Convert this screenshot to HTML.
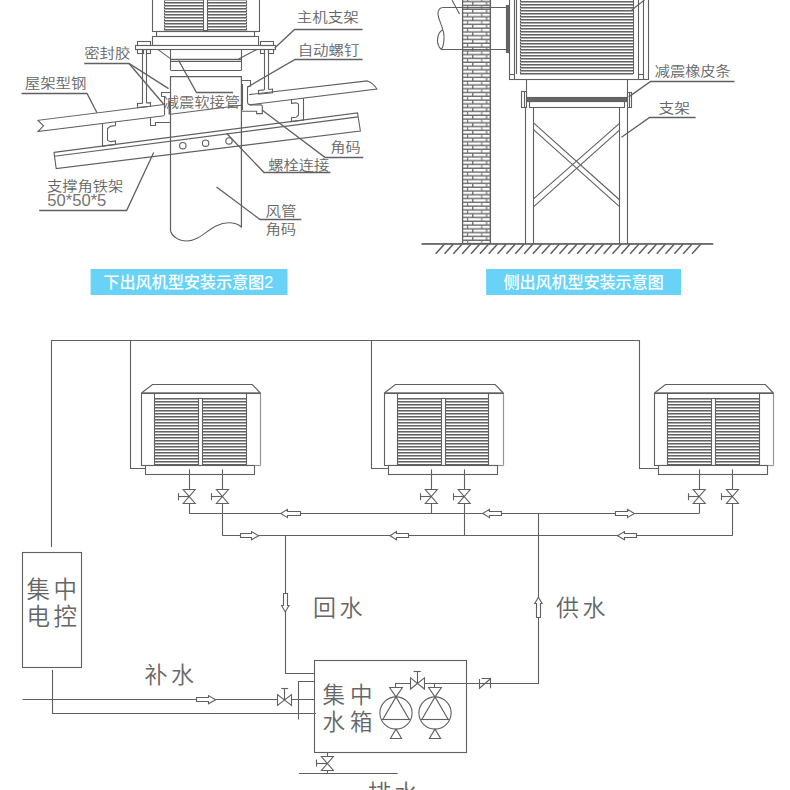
<!DOCTYPE html>
<html lang="zh-CN">
<head>
<meta charset="utf-8">
<title>安装示意图</title>
<style>
html,body{margin:0;padding:0;background:#fff;}
body{width:790px;height:790px;overflow:hidden;}
svg{display:block;}
svg text{font-family:"Liberation Sans","Noto Sans CJK SC",sans-serif;font-weight:350;fill:#666;stroke:none;}
</style>
</head>
<body>
<svg width="790" height="790" viewBox="0 0 790 790" fill="none" stroke="#606060" stroke-width="1.1" stroke-linecap="butt" stroke-linejoin="miter">
<rect x="0" y="0" width="790" height="790" fill="#fff" stroke="none"/>
<defs>
<pattern id="brick" x="462.3" y="-1.42" width="28.2" height="7.574" patternUnits="userSpaceOnUse">
<rect x="0" y="0" width="28.2" height="7.574" fill="#6c6c6c" stroke="none"/>
<rect x="0.8" y="0" width="4.0" height="2.35" fill="#fff" stroke="none"/>
<rect x="5.9" y="0" width="13.0" height="2.35" fill="#fff" stroke="none"/>
<rect x="19.9" y="0" width="7.6" height="2.35" fill="#fff" stroke="none"/>
<rect x="0.8" y="3.787" width="9.0" height="2.35" fill="#fff" stroke="none"/>
<rect x="11.1" y="3.787" width="12.6" height="2.35" fill="#fff" stroke="none"/>
<rect x="24.9" y="3.787" width="2.6" height="2.35" fill="#fff" stroke="none"/>
</pattern>
</defs>
<g id="tl">
<rect x="152.50" y="-4.50" width="107.00" height="36.00" fill="#fff"/>
<rect x="164.50" y="-4.50" width="82.00" height="35.00" fill="#fff"/>
<path d="M164 30.5H247M164 27.5H247M164 24.5H247M164 21.5H247M164 18.5H247M164 15.5H247M164 12.5H247M164 9.5H247M164 6.5H247M164 3.5H247M164 0.5H247" stroke="#aaaaaa"/>
<path d="M164 29.5H247M164 26.5H247M164 23.5H247M164 20.5H247M164 17.5H247M164 14.5H247M164 11.5H247M164 8.5H247M164 5.5H247M164 2.5H247M164 -0.5H247" stroke="#646464"/>
<rect x="203.50" y="-4.50" width="4.00" height="35.00" fill="#fff"/>
<rect x="156.50" y="31.50" width="98.00" height="5.00"/>
<rect x="152.50" y="36.50" width="106.00" height="9.00"/>
<rect x="135.50" y="45.50" width="140.00" height="4.00" fill="#fff"/>
<rect x="137.50" y="41.50" width="13.00" height="4.00"/>
<rect x="260.50" y="41.50" width="13.00" height="4.00"/>
<rect x="137.50" y="49.50" width="6.00" height="4.00"/>
<rect x="146.50" y="49.50" width="4.00" height="4.00"/>
<rect x="260.50" y="49.50" width="4.00" height="4.00"/>
<rect x="268.50" y="49.50" width="5.00" height="4.00"/>
<line x1="142.50" y1="49.40" x2="142.50" y2="103.20"/>
<line x1="146.50" y1="49.40" x2="146.50" y2="103.20"/>
<path d="M142.90 103.20 L137.50 103.60 L137.50 107.60 L150.50 106.20 L150.50 102.60 L146.60 103.00"/>
<line x1="264.50" y1="49.40" x2="264.50" y2="89.90"/>
<line x1="268.50" y1="49.40" x2="268.50" y2="89.50"/>
<path d="M264.40 89.90 L258.50 90.50 L258.50 94.20 L272.50 92.70 L272.50 89.00 L268.50 89.50"/>
<line x1="157.80" y1="49.40" x2="170.80" y2="58.90"/>
<line x1="257.00" y1="49.40" x2="238.60" y2="59.00"/>
<line x1="170.50" y1="49.40" x2="170.50" y2="70.30"/>
<line x1="241.50" y1="49.40" x2="241.50" y2="70.30"/>
<line x1="170.80" y1="59.50" x2="241.40" y2="59.50" stroke-width="1.6"/>
<line x1="170.80" y1="61.50" x2="241.40" y2="61.50"/>
<line x1="170.80" y1="70.50" x2="241.40" y2="70.50"/>
<path d="M170.5 231 L170.5 76.6 L241.4 76.6 L241.4 227 C236 222 226 221 216 226 C206 231 198 241 187 241 C178 241 172 236 170.5 231" fill="none"/>
<path d="M164.20 104.53 L38.00 120.30 L43.50 125.80 L38.00 131.60 L164.20 115.82"/>
<path d="M249.2 94.60 L367.3 80.90 Q373.5 83 376.8 88.95 L249.5 104.86"/>
<path d="M102.50 123.54 L102.50 146.09 L115.50 144.44 L115.50 140.84 L110.50 141.66 L107.50 140.47 L107.50 128.44 L110.50 126.34 L115.50 125.55 L115.50 121.95"/>
<path d="M303.50 98.09 L303.50 119.94 L291.50 121.51 L291.50 117.71 L296.00 117.34 L298.50 115.18 L298.50 104.10 L296.00 102.85 L291.50 103.40 L291.50 99.60"/>
<path d="M54.00 152.40 L357.50 112.95 L360.40 131.00 L56.20 168.60 Z"/>
<line x1="54.60" y1="156.32" x2="358.00" y2="116.88"/>
<circle cx="182.80" cy="145.70" r="3.20" fill="#fff"/>
<circle cx="205.60" cy="143.20" r="3.20" fill="#fff"/>
<circle cx="229.00" cy="140.90" r="3.20" fill="#fff"/>
<line x1="170.50" y1="76.60" x2="170.50" y2="231.00"/>
<line x1="241.50" y1="76.60" x2="241.50" y2="227.00"/>
<line x1="170.50" y1="114.30" x2="241.40" y2="105.20"/>
<path d="M161.50 96.50 L161.50 92.50 L170.50 92.50"/>
<path d="M161.40 96.50 L164.50 96.50 L164.50 115.30"/>
<path d="M150.50 117.50 L150.50 125.50 L155.50 125.50 L155.50 122.50 L170.50 122.50"/>
<line x1="169.50" y1="101.00" x2="169.50" y2="114.50" stroke-width="1.8"/>
<path d="M241.8 80.5 L250.5 80.5 L250.5 86.2 L247.5 87 L247.5 102 Q247.6 104.6 250.2 104.9 L261 104.9 L262.3 106.2 L262.3 113.6 L256.6 113.6 L256.6 111.2 L241.4 111.2"/>
<line x1="242.50" y1="84.00" x2="242.50" y2="110.00"/>
<path d="M21.50 93.50 L87.00 93.50 L97.00 112.70" stroke-width="1.3"/>
<path d="M84.20 63.50 L129.00 63.50 L168.60 88.60" stroke-width="1.3"/>
<line x1="129.00" y1="63.50" x2="163.50" y2="104.00" stroke-width="1.3"/>
<path d="M39.20 210.50 L126.60 210.50 L153.70 152.40" stroke-width="1.3"/>
<path d="M178.70 60.50 L196.50 92.50 L233.00 92.50" stroke-width="1.3"/>
<path d="M362.60 29.50 L294.60 29.50 L274.70 48.00" stroke-width="1.3"/>
<path d="M362.60 59.50 L295.00 59.50 L247.70 87.00" stroke-width="1.3"/>
<path d="M363.20 157.50 L325.20 157.50 L262.00 110.00" stroke-width="1.3"/>
<path d="M330.40 172.50 L264.00 172.50 L226.50 133.30" stroke-width="1.3"/>
<path d="M301.30 219.50 L260.00 219.50 L216.50 187.00" stroke-width="1.3"/>
<text class="lb" transform="translate(296.71 22.22) scale(1.1505 1)" style="font-size:13.5px;">主机支架</text>
<text class="lb" transform="translate(297.64 54.52) scale(1.1479 1)" style="font-size:13.5px;">自动螺钉</text>
<text class="lb" transform="translate(84.23 58.35) scale(1.1395 1)" style="font-size:13.5px;">密封胶</text>
<text class="lb" transform="translate(24.72 88.22) scale(1.1440 1)" style="font-size:13.5px;">屋架型钢</text>
<text class="lb" transform="translate(163.73 107.35) scale(1.1311 1)" style="font-size:13.5px;">减震软接管</text>
<text class="lb" transform="translate(330.23 152.17) scale(1.1238 1)" style="font-size:13.5px;">角码</text>
<text class="lb" transform="translate(268.23 169.60) scale(1.1341 1)" style="font-size:13.5px;">螺栓连接</text>
<text class="lb" transform="translate(46.98 190.95) scale(1.1310 1)" style="font-size:13.5px;">支撑角铁架</text>
<text class="lb" transform="translate(47.28 205.85) scale(1.0640 1)" style="font-size:15.6px;fill:#747474;">50*50*5</text>
<text class="lb" transform="translate(265.46 215.72) scale(1.1472 1)" style="font-size:13.5px;">风管</text>
<text class="lb" transform="translate(265.46 233.98) scale(1.1417 1)" style="font-size:13.5px;">角码</text>
</g>
<g id="tr">
<path d="M442.2 7.5 L506 7.5 M441.4 49.5 L506 49.5" fill="none"/>
<path d="M442.2 7.5 C438.3 8.3 437 12.5 438.6 17.5 C440 22 442 26 442.7 29.7 C444.7 34 444.5 45 441.4 49.5 C435.8 45 436.2 33.5 442.7 29.7" fill="none"/>
<rect x="462.50" y="-4.50" width="28.00" height="248.00" fill="url(#brick)"/>
<line x1="462.30" y1="7.50" x2="490.50" y2="7.50"/>
<line x1="462.30" y1="49.50" x2="490.50" y2="49.50"/>
<line x1="452.00" y1="0.00" x2="459.50" y2="14.00"/>
<rect x="506.50" y="5.50" width="3.00" height="47.00" fill="#666"/>
<rect x="509.50" y="-4.50" width="139.00" height="84.00" fill="#fff"/>
<line x1="514.50" y1="-5.00" x2="514.50" y2="79.70"/>
<line x1="516.50" y1="-5.00" x2="516.50" y2="74.00"/>
<line x1="509.50" y1="74.50" x2="514.60" y2="74.50"/>
<rect x="520.50" y="-4.50" width="113.00" height="78.00" fill="#fff"/>
<path d="M520 74.5H633M520 71.5H633M520 68.5H633M520 65.5H633M520 62.5H633M520 59.5H633M520 56.5H633M520 53.5H633M520 50.5H633M520 47.5H633M520 44.5H633M520 41.5H633M520 38.5H633M520 35.5H633M520 32.5H633M520 29.5H633M520 26.5H633M520 23.5H633M520 20.5H633M520 17.5H633M520 14.5H633M520 11.5H633M520 8.5H633M520 5.5H633M520 2.5H633M520 -0.5H633" stroke="#aaaaaa"/>
<path d="M520 73.5H633M520 70.5H633M520 67.5H633M520 64.5H633M520 61.5H633M520 58.5H633M520 55.5H633M520 52.5H633M520 49.5H633M520 46.5H633M520 43.5H633M520 40.5H633M520 37.5H633M520 34.5H633M520 31.5H633M520 28.5H633M520 25.5H633M520 22.5H633M520 19.5H633M520 16.5H633M520 13.5H633M520 10.5H633M520 7.5H633M520 4.5H633M520 1.5H633M520 -1.5H633" stroke="#646464"/>
<line x1="638.50" y1="-5.00" x2="638.50" y2="79.70"/>
<line x1="643.50" y1="-5.00" x2="643.50" y2="79.70"/>
<line x1="638.50" y1="74.50" x2="643.00" y2="74.50"/>
<line x1="644.40" y1="0.00" x2="631.80" y2="10.00"/>
<line x1="526.50" y1="79.70" x2="526.50" y2="97.30"/>
<line x1="627.50" y1="79.70" x2="627.50" y2="97.30"/>
<rect x="527.50" y="97.50" width="99.00" height="4.00" fill="#666"/>
<rect x="529.50" y="101.50" width="95.00" height="6.00"/>
<rect x="521.50" y="91.50" width="5.00" height="16.00" fill="#fff"/>
<line x1="524.50" y1="91.00" x2="524.50" y2="107.60"/>
<rect x="627.50" y="92.50" width="4.00" height="15.00" fill="#fff"/>
<line x1="629.50" y1="92.00" x2="629.50" y2="107.60"/>
<line x1="525.50" y1="107.60" x2="525.50" y2="243.70"/>
<line x1="533.50" y1="107.60" x2="533.50" y2="243.70"/>
<line x1="619.50" y1="107.60" x2="619.50" y2="243.70"/>
<line x1="627.50" y1="107.60" x2="627.50" y2="243.70"/>
<line x1="533.50" y1="122.90" x2="619.20" y2="199.50"/>
<line x1="533.50" y1="129.70" x2="619.20" y2="206.30"/>
<line x1="619.20" y1="123.60" x2="533.50" y2="198.80"/>
<line x1="619.20" y1="130.40" x2="533.50" y2="206.80"/>
<rect x="421.5" y="243.1" width="291.8" height="1.7" fill="#5e5e5e" stroke="none"/>
<line x1="444.30" y1="244.20" x2="435.70" y2="253.80" stroke-width="1.5" stroke="#5e5e5e"/>
<line x1="453.14" y1="244.20" x2="444.54" y2="253.80" stroke-width="1.5" stroke="#5e5e5e"/>
<line x1="461.98" y1="244.20" x2="453.38" y2="253.80" stroke-width="1.5" stroke="#5e5e5e"/>
<line x1="470.82" y1="244.20" x2="462.22" y2="253.80" stroke-width="1.5" stroke="#5e5e5e"/>
<line x1="479.66" y1="244.20" x2="471.06" y2="253.80" stroke-width="1.5" stroke="#5e5e5e"/>
<line x1="488.50" y1="244.20" x2="479.90" y2="253.80" stroke-width="1.5" stroke="#5e5e5e"/>
<line x1="497.34" y1="244.20" x2="488.74" y2="253.80" stroke-width="1.5" stroke="#5e5e5e"/>
<line x1="506.18" y1="244.20" x2="497.58" y2="253.80" stroke-width="1.5" stroke="#5e5e5e"/>
<line x1="515.02" y1="244.20" x2="506.42" y2="253.80" stroke-width="1.5" stroke="#5e5e5e"/>
<line x1="523.86" y1="244.20" x2="515.26" y2="253.80" stroke-width="1.5" stroke="#5e5e5e"/>
<line x1="532.70" y1="244.20" x2="524.10" y2="253.80" stroke-width="1.5" stroke="#5e5e5e"/>
<line x1="541.54" y1="244.20" x2="532.94" y2="253.80" stroke-width="1.5" stroke="#5e5e5e"/>
<line x1="550.38" y1="244.20" x2="541.78" y2="253.80" stroke-width="1.5" stroke="#5e5e5e"/>
<line x1="559.22" y1="244.20" x2="550.62" y2="253.80" stroke-width="1.5" stroke="#5e5e5e"/>
<line x1="568.06" y1="244.20" x2="559.46" y2="253.80" stroke-width="1.5" stroke="#5e5e5e"/>
<line x1="576.90" y1="244.20" x2="568.30" y2="253.80" stroke-width="1.5" stroke="#5e5e5e"/>
<line x1="585.74" y1="244.20" x2="577.14" y2="253.80" stroke-width="1.5" stroke="#5e5e5e"/>
<line x1="594.58" y1="244.20" x2="585.98" y2="253.80" stroke-width="1.5" stroke="#5e5e5e"/>
<line x1="603.42" y1="244.20" x2="594.82" y2="253.80" stroke-width="1.5" stroke="#5e5e5e"/>
<line x1="612.26" y1="244.20" x2="603.66" y2="253.80" stroke-width="1.5" stroke="#5e5e5e"/>
<line x1="621.10" y1="244.20" x2="612.50" y2="253.80" stroke-width="1.5" stroke="#5e5e5e"/>
<line x1="629.94" y1="244.20" x2="621.34" y2="253.80" stroke-width="1.5" stroke="#5e5e5e"/>
<line x1="638.78" y1="244.20" x2="630.18" y2="253.80" stroke-width="1.5" stroke="#5e5e5e"/>
<line x1="647.62" y1="244.20" x2="639.02" y2="253.80" stroke-width="1.5" stroke="#5e5e5e"/>
<line x1="656.46" y1="244.20" x2="647.86" y2="253.80" stroke-width="1.5" stroke="#5e5e5e"/>
<line x1="665.30" y1="244.20" x2="656.70" y2="253.80" stroke-width="1.5" stroke="#5e5e5e"/>
<line x1="674.14" y1="244.20" x2="665.54" y2="253.80" stroke-width="1.5" stroke="#5e5e5e"/>
<line x1="682.98" y1="244.20" x2="674.38" y2="253.80" stroke-width="1.5" stroke="#5e5e5e"/>
<line x1="691.82" y1="244.20" x2="683.22" y2="253.80" stroke-width="1.5" stroke="#5e5e5e"/>
<line x1="700.66" y1="244.20" x2="692.06" y2="253.80" stroke-width="1.5" stroke="#5e5e5e"/>
<path d="M734.50 81.50 L650.60 81.50 L628.80 96.90" stroke-width="1.3"/>
<path d="M695.60 117.50 L649.60 117.50 L621.50 137.20" stroke-width="1.3"/>
<text class="lb" transform="translate(654.73 76.47) scale(1.1280 1)" style="font-size:13.5px;">减震橡皮条</text>
<text class="lb" transform="translate(658.45 112.65) scale(1.1668 1)" style="font-size:13.5px;">支架</text>
</g>
<rect x="90.6" y="269" width="196.9" height="26" fill="#68d3f6" stroke="none"/>
<rect x="486.1" y="269" width="194.9" height="26" fill="#68d3f6" stroke="none"/>
<text x="103.30" y="288.00" style="font-size:16.2px;letter-spacing:-0.1px;font-weight:500;fill:#fff;">下出风机型安装示意图2</text>
<text x="503.60" y="288.00" style="font-size:16.2px;letter-spacing:-0.2px;font-weight:500;fill:#fff;">侧出风机型安装示意图</text>
<g id="pipe">
<path d="M141.50 393.00 L152.50 384.50 L252.30 384.50 L260.30 393.00"/>
<rect x="141.50" y="393.50" width="119.00" height="72.00" fill="#fff"/>
<path d="M154 399.5H246M154 402.5H246M154 405.5H246M154 408.5H246M154 411.5H246M154 414.5H246M154 417.5H246M154 420.5H246M154 423.5H246M154 426.5H246M154 429.5H246M154 432.5H246M154 435.5H246M154 438.5H246M154 441.5H246M154 444.5H246M154 447.5H246M154 450.5H246M154 453.5H246M154 456.5H246M154 459.5H246M154 462.5H246M154 465.5H246" stroke="#aaaaaa"/>
<path d="M154 398.5H246M154 401.5H246M154 404.5H246M154 407.5H246M154 410.5H246M154 413.5H246M154 416.5H246M154 419.5H246M154 422.5H246M154 425.5H246M154 428.5H246M154 431.5H246M154 434.5H246M154 437.5H246M154 440.5H246M154 443.5H246M154 446.5H246M154 449.5H246M154 452.5H246M154 455.5H246M154 458.5H246M154 461.5H246M154 464.5H246" stroke="#646464"/>
<rect x="141.50" y="392.3" width="118.8" height="1.5" fill="#626262" stroke="none"/>
<line x1="154.50" y1="393.00" x2="154.50" y2="465.00"/>
<line x1="246.50" y1="393.00" x2="246.50" y2="465.00"/>
<rect x="198.50" y="398.50" width="4.00" height="67.00" fill="#fff"/>
<line x1="260.50" y1="394.20" x2="260.50" y2="465.90" stroke-width="1.6" stroke="#fff"/>
<line x1="260.50" y1="394.20" x2="260.50" y2="465.90" stroke-width="1.1" stroke="#969696"/>
<line x1="255.10" y1="465.50" x2="260.80" y2="465.50" stroke-width="1.6" stroke="#fff"/>
<line x1="255.10" y1="465.50" x2="260.80" y2="465.50" stroke-width="1.1" stroke="#969696"/>
<rect x="145.50" y="465.50" width="109.00" height="9.00" fill="#fff"/>
<line x1="189.50" y1="469.40" x2="189.50" y2="513.50"/>
<path d="M183.20 489.50 L195.20 489.50 L183.20 503.50 L195.20 503.50 Z" fill="#fff"/>
<line x1="178.60" y1="496.50" x2="189.20" y2="496.50"/>
<line x1="178.50" y1="493.20" x2="178.50" y2="500.20"/>
<line x1="222.50" y1="469.40" x2="222.50" y2="535.70"/>
<path d="M216.40 489.50 L228.40 489.50 L216.40 503.50 L228.40 503.50 Z" fill="#fff"/>
<line x1="211.80" y1="496.50" x2="222.40" y2="496.50"/>
<line x1="211.50" y1="493.20" x2="211.50" y2="500.20"/>
<path d="M130.50 340.30 L130.50 468.50 L145.10 468.50"/>
<path d="M384.40 393.00 L395.40 384.50 L495.20 384.50 L503.20 393.00"/>
<rect x="384.50" y="393.50" width="119.00" height="72.00" fill="#fff"/>
<path d="M397 399.5H488M397 402.5H488M397 405.5H488M397 408.5H488M397 411.5H488M397 414.5H488M397 417.5H488M397 420.5H488M397 423.5H488M397 426.5H488M397 429.5H488M397 432.5H488M397 435.5H488M397 438.5H488M397 441.5H488M397 444.5H488M397 447.5H488M397 450.5H488M397 453.5H488M397 456.5H488M397 459.5H488M397 462.5H488M397 465.5H488" stroke="#aaaaaa"/>
<path d="M397 398.5H488M397 401.5H488M397 404.5H488M397 407.5H488M397 410.5H488M397 413.5H488M397 416.5H488M397 419.5H488M397 422.5H488M397 425.5H488M397 428.5H488M397 431.5H488M397 434.5H488M397 437.5H488M397 440.5H488M397 443.5H488M397 446.5H488M397 449.5H488M397 452.5H488M397 455.5H488M397 458.5H488M397 461.5H488M397 464.5H488" stroke="#646464"/>
<rect x="384.40" y="392.3" width="118.8" height="1.5" fill="#626262" stroke="none"/>
<line x1="397.50" y1="393.00" x2="397.50" y2="465.00"/>
<line x1="488.50" y1="393.00" x2="488.50" y2="465.00"/>
<rect x="441.50" y="398.50" width="4.00" height="67.00" fill="#fff"/>
<line x1="503.50" y1="394.20" x2="503.50" y2="465.90" stroke-width="1.6" stroke="#fff"/>
<line x1="503.50" y1="394.20" x2="503.50" y2="465.90" stroke-width="1.1" stroke="#969696"/>
<line x1="498.00" y1="465.50" x2="503.70" y2="465.50" stroke-width="1.6" stroke="#fff"/>
<line x1="498.00" y1="465.50" x2="503.70" y2="465.50" stroke-width="1.1" stroke="#969696"/>
<rect x="388.50" y="465.50" width="109.00" height="9.00" fill="#fff"/>
<line x1="431.50" y1="469.40" x2="431.50" y2="513.50"/>
<path d="M425.30 489.50 L437.30 489.50 L425.30 503.50 L437.30 503.50 Z" fill="#fff"/>
<line x1="420.70" y1="496.50" x2="431.30" y2="496.50"/>
<line x1="420.50" y1="493.20" x2="420.50" y2="500.20"/>
<line x1="464.50" y1="469.40" x2="464.50" y2="535.70"/>
<path d="M458.20 489.50 L470.20 489.50 L458.20 503.50 L470.20 503.50 Z" fill="#fff"/>
<line x1="453.60" y1="496.50" x2="464.20" y2="496.50"/>
<line x1="453.50" y1="493.20" x2="453.50" y2="500.20"/>
<path d="M371.50 340.30 L371.50 468.50 L388.00 468.50"/>
<path d="M654.50 393.00 L665.50 384.50 L765.30 384.50 L773.30 393.00"/>
<rect x="654.50" y="393.50" width="119.00" height="72.00" fill="#fff"/>
<path d="M667 399.5H759M667 402.5H759M667 405.5H759M667 408.5H759M667 411.5H759M667 414.5H759M667 417.5H759M667 420.5H759M667 423.5H759M667 426.5H759M667 429.5H759M667 432.5H759M667 435.5H759M667 438.5H759M667 441.5H759M667 444.5H759M667 447.5H759M667 450.5H759M667 453.5H759M667 456.5H759M667 459.5H759M667 462.5H759M667 465.5H759" stroke="#aaaaaa"/>
<path d="M667 398.5H759M667 401.5H759M667 404.5H759M667 407.5H759M667 410.5H759M667 413.5H759M667 416.5H759M667 419.5H759M667 422.5H759M667 425.5H759M667 428.5H759M667 431.5H759M667 434.5H759M667 437.5H759M667 440.5H759M667 443.5H759M667 446.5H759M667 449.5H759M667 452.5H759M667 455.5H759M667 458.5H759M667 461.5H759M667 464.5H759" stroke="#646464"/>
<rect x="654.50" y="392.3" width="118.8" height="1.5" fill="#626262" stroke="none"/>
<line x1="667.50" y1="393.00" x2="667.50" y2="465.00"/>
<line x1="759.50" y1="393.00" x2="759.50" y2="465.00"/>
<rect x="711.50" y="398.50" width="4.00" height="67.00" fill="#fff"/>
<line x1="773.50" y1="394.20" x2="773.50" y2="465.90" stroke-width="1.6" stroke="#fff"/>
<line x1="773.50" y1="394.20" x2="773.50" y2="465.90" stroke-width="1.1" stroke="#969696"/>
<line x1="768.10" y1="465.50" x2="773.80" y2="465.50" stroke-width="1.6" stroke="#fff"/>
<line x1="768.10" y1="465.50" x2="773.80" y2="465.50" stroke-width="1.1" stroke="#969696"/>
<rect x="658.50" y="465.50" width="109.00" height="9.00" fill="#fff"/>
<line x1="699.50" y1="469.40" x2="699.50" y2="513.50"/>
<path d="M693.20 489.50 L705.20 489.50 L693.20 503.50 L705.20 503.50 Z" fill="#fff"/>
<line x1="688.60" y1="496.50" x2="699.20" y2="496.50"/>
<line x1="688.50" y1="493.20" x2="688.50" y2="500.20"/>
<line x1="732.50" y1="469.40" x2="732.50" y2="535.70"/>
<path d="M726.40 489.50 L738.40 489.50 L726.40 503.50 L738.40 503.50 Z" fill="#fff"/>
<line x1="721.80" y1="496.50" x2="732.40" y2="496.50"/>
<line x1="721.50" y1="493.20" x2="721.50" y2="500.20"/>
<path d="M639.50 340.30 L639.50 468.50 L658.10 468.50"/>
<path d="M51.50 547.00 L51.50 340.50 L639.80 340.50"/>
<line x1="189.20" y1="513.50" x2="699.20" y2="513.50"/>
<line x1="222.40" y1="535.50" x2="732.40" y2="535.50"/>
<path d="M280.80 513.50 L287.50 509.40 L287.50 511.50 L300.50 511.50 L300.50 515.50 L287.50 515.50 L287.50 517.60 Z" fill="#fff"/>
<path d="M482.70 513.50 L489.50 509.40 L489.50 511.50 L501.50 511.50 L501.50 515.50 L489.50 515.50 L489.50 517.60 Z" fill="#fff"/>
<path d="M634.30 513.50 L627.50 509.40 L627.50 511.50 L615.50 511.50 L615.50 515.50 L627.50 515.50 L627.50 517.60 Z" fill="#fff"/>
<path d="M258.70 535.70 L251.50 531.60 L251.50 533.50 L240.50 533.50 L240.50 537.50 L251.50 537.50 L251.50 539.80 Z" fill="#fff"/>
<path d="M390.00 535.70 L396.50 531.60 L396.50 533.50 L408.50 533.50 L408.50 537.50 L396.50 537.50 L396.50 539.80 Z" fill="#fff"/>
<path d="M617.50 535.70 L624.50 531.60 L624.50 533.50 L636.50 533.50 L636.50 537.50 L624.50 537.50 L624.50 539.80 Z" fill="#fff"/>
<path d="M285.50 535.70 L285.50 673.50 L314.40 673.50"/>
<path d="M285.30 612.00 L281.60 605.50 L283.50 605.50 L283.50 593.50 L287.50 593.50 L287.50 605.50 L289.00 605.50 Z" fill="#fff"/>
<path d="M538.50 513.50 L538.50 683.50 L490.80 683.50"/>
<path d="M538.40 597.30 L534.70 603.50 L536.50 603.50 L536.50 617.50 L540.50 617.50 L540.50 603.50 L542.10 603.50 Z" fill="#fff"/>
<rect x="22.50" y="552.50" width="59.00" height="115.00"/>
<text x="26.50" y="598.00" style="font-size:23.5px;letter-spacing:3.6px;">集中</text>
<text x="26.50" y="624.50" style="font-size:23.5px;letter-spacing:3.6px;">电控</text>
<path d="M52.50 670.00 L52.50 713.50 L316.00 713.50"/>
<line x1="22.40" y1="699.50" x2="314.40" y2="699.50"/>
<path d="M215.60 699.70 L208.50 695.60 L208.50 697.50 L196.50 697.50 L196.50 701.50 L208.50 701.50 L208.50 703.80 Z" fill="#fff"/>
<text x="144.50" y="683.00" style="font-size:23px;letter-spacing:3.5px;">补水</text>
<text x="313.00" y="616.00" style="font-size:23px;letter-spacing:3.5px;">回水</text>
<text x="556.00" y="616.00" style="font-size:23px;letter-spacing:3.5px;">供水</text>
<rect x="314.50" y="660.50" width="152.00" height="92.00"/>
<text x="322.50" y="702.50" style="font-size:22.5px;letter-spacing:5px;">集中</text>
<text x="322.50" y="729.50" style="font-size:22.5px;letter-spacing:5px;">水箱</text>
<path d="M314.40 681.50 L298.50 681.50 L298.50 719.50"/>
<path d="M277.50 694.60 L277.50 705.40 L291.50 694.60 L291.50 705.40 Z" fill="#fff"/>
<line x1="284.50" y1="699.70" x2="284.50" y2="688.60"/>
<line x1="281.20" y1="688.50" x2="288.20" y2="688.50"/>
<line x1="327.50" y1="752.00" x2="327.50" y2="773.60"/>
<path d="M321.40 756.50 L333.40 756.50 L321.40 770.50 L333.40 770.50 Z" fill="#fff"/>
<line x1="316.80" y1="763.50" x2="327.40" y2="763.50"/>
<line x1="316.50" y1="759.60" x2="316.50" y2="766.60"/>
<line x1="299.00" y1="773.50" x2="397.70" y2="773.50"/>
<text x="367.80" y="801.80" style="font-size:23.5px;letter-spacing:3px;">排水</text>
<circle cx="396.00" cy="713.00" r="16.10" fill="none"/>
<path d="M396.00 696.90 L382.80 719.50 L409.20 719.50 Z" fill="none"/>
<line x1="381.40" y1="719.50" x2="410.60" y2="719.50"/>
<path d="M396.00 696.90 L389.60 687.50 L402.40 687.50 Z" fill="none"/>
<path d="M396.00 729.10 L390.40 738.50 L401.60 738.50 Z" fill="none"/>
<circle cx="435.00" cy="713.00" r="16.10" fill="none"/>
<path d="M435.00 696.90 L421.80 719.50 L448.20 719.50 Z" fill="none"/>
<line x1="420.40" y1="719.50" x2="449.60" y2="719.50"/>
<path d="M435.00 696.90 L428.60 687.50 L441.40 687.50 Z" fill="none"/>
<path d="M435.00 729.10 L429.40 738.50 L440.60 738.50 Z" fill="none"/>
<path d="M395.50 687.60 L395.50 683.50 L410.50 683.50"/>
<line x1="434.50" y1="687.60" x2="434.50" y2="683.30"/>
<line x1="424.70" y1="683.50" x2="479.30" y2="683.50"/>
<path d="M410.50 677.80 L410.50 689.00 L424.50 677.80 L424.50 689.00 Z" fill="#fff"/>
<line x1="417.50" y1="683.30" x2="417.50" y2="671.40"/>
<line x1="413.60" y1="671.50" x2="420.80" y2="671.50"/>
<path d="M479.50 679.00 L479.50 688.20 L490.50 678.80 L490.50 688.20"/>
<line x1="479.30" y1="683.50" x2="490.80" y2="683.50"/>
<line x1="481.50" y1="678.50" x2="490.80" y2="678.50"/>
</g>
</svg>
</body>
</html>
